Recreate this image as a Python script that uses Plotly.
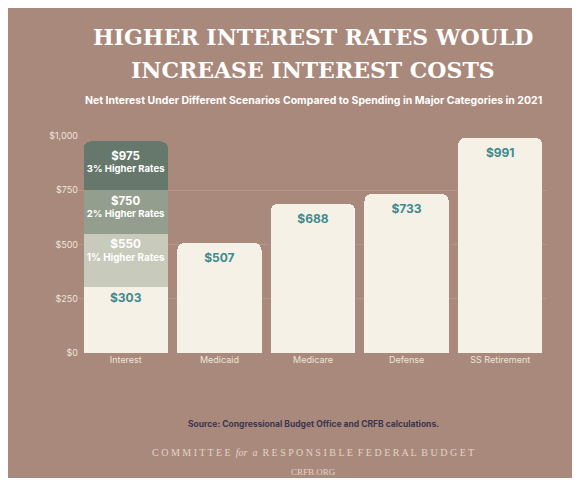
import plotly.graph_objects as go

categories = ["Interest", "Medicaid", "Medicare", "Defense", "SS Retirement"]
spending = [303, 507, 688, 733, 991]
scenario_names = ["1% Higher Rates", "2% Higher Rates", "3% Higher Rates"]
scenario_totals = [550, 750, 975]
scenario_colors = ["#c8cabc", "#939e8e", "#66776b"]

bg = "#a9897b"
W, H = 564, 470  # page body has an 8px margin
T, B = 128, 125
fig = go.Figure()
fig.add_bar(x=categories, y=spending, marker_color="#f6f1e6",
            text=[f"<b>${v}</b>" for v in spending], textposition="inside",
            insidetextanchor="end", textangle=0,
            textfont=dict(color="#3f8a8e", size=12, family="Inter"), hoverinfo="skip")
prev = spending[0]
for name, tot, col in zip(scenario_names, scenario_totals, scenario_colors):
    fig.add_bar(x=[categories[0]], y=[tot - prev], marker_color=col,
                text=[f"<b><span style='font-size:12px'>${tot}</span></b><br><b>{name}</b>"],
                textposition="inside", insidetextanchor="end", textangle=0,
                textfont=dict(color="white", size=10, family="Inter"))
    prev = tot

fig.update_traces(marker_line_width=0)
fig.update_layout(
    barmode="stack", bargap=0.1, barcornerradius=7, showlegend=False,
    width=W, height=H, paper_bgcolor=bg, plot_bgcolor=bg,
    margin=dict(l=71, r=25, t=T, b=B),
    font=dict(family="Inter", color="#f3ece4"),
    xaxis=dict(showgrid=False, tickfont=dict(size=9, color="#eee5dc")),
    yaxis=dict(range=[0, 1000], tickvals=[0, 250, 500, 750, 1000],
               ticktext=["$0", "$250", "$500", "$750", "$1,000"],
               tickfont=dict(size=9, color="#eee5dc"), showgrid=True,
               gridcolor="rgba(255,255,255,0.12)", zeroline=False),
)
ann = [
    dict(text="<b>HIGHER INTEREST RATES WOULD</b>", y=37, size=22, family="DejaVu Serif", color="white"),
    dict(text="<b>INCREASE INTEREST COSTS</b>", y=70, size=22, family="DejaVu Serif", color="white"),
    dict(text="<b>Net Interest Under Different Scenarios Compared to Spending in Major Categories in 2021</b>",
         y=101, size=10.5, family="Inter", color="white"),
    dict(text="<b>Source: Congressional Budget Office and CRFB calculations.</b>",
         y=424, size=8.5, family="Inter", color="#3b3550"),
    dict(text="C O M M I T T E E  <i>for  a</i>  R E S P O N S I B L E  F E D E R A L  B U D G E T",
         y=452, size=10, family="Liberation Serif", color="#e2d4ca"),
    dict(text="CRFB.ORG", y=472, size=9, family="Liberation Serif", color="#e2d4ca"),
]
for a in ann:
    fig.add_annotation(text=a["text"], xref="paper", yref="paper", x=0.5,
                       y=1 - (a["y"] - 8 - T) / (H - T - B), yanchor="middle",
                       showarrow=False, font=dict(size=a["size"], family=a["family"], color=a["color"]))
fig.write_html("out.html")
